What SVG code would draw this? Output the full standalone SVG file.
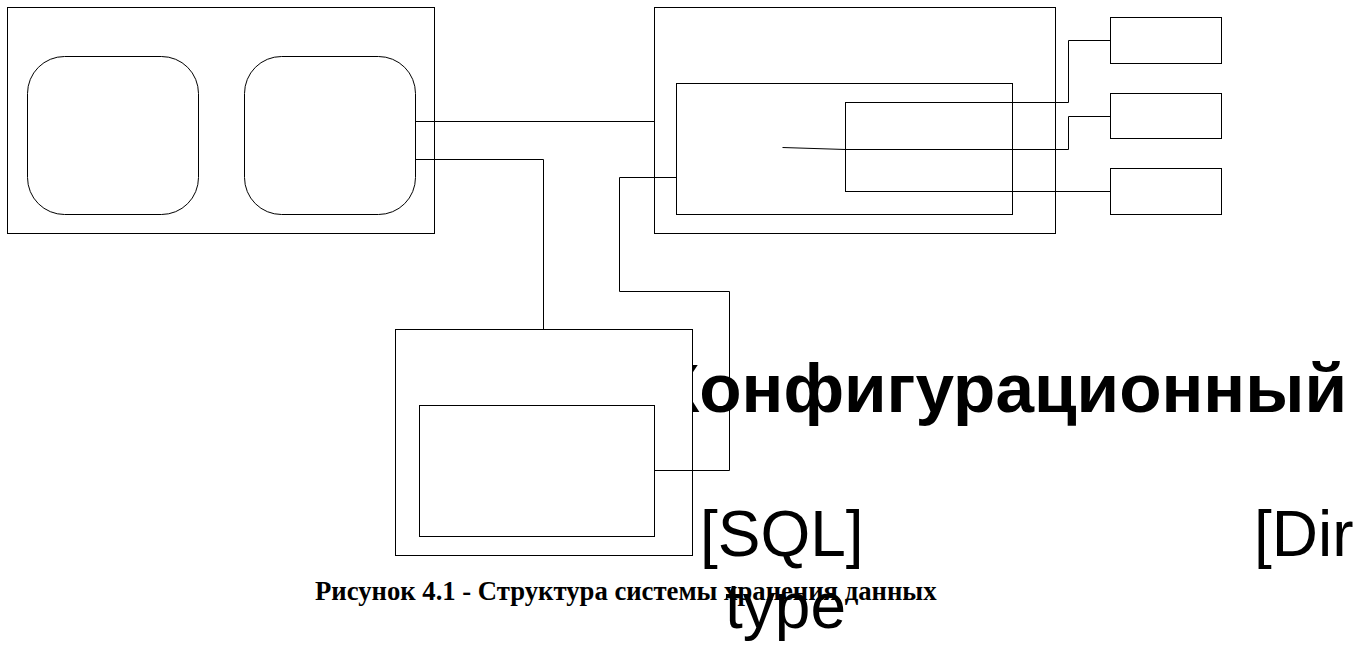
<svg xmlns="http://www.w3.org/2000/svg" width="1360" height="646" viewBox="0 0 1360 646">
  <style>
    .box { fill: #fff; stroke: #000; stroke-width: 1; }
    .wire { fill: none; stroke: #000; stroke-width: 1; }
    .big { font-family: "Liberation Sans", Arial, sans-serif; fill: #000; }
    .caption { font-family: "Liberation Serif", "Times New Roman", serif; font-weight: bold; font-size: 26.7px; fill: #000; }
  </style>
  <rect width="1360" height="646" fill="#fff"/>

  <!-- labels (drawn underneath the blocks) -->
  <g id="labels">
    <text class="big" x="1347" y="412" font-size="69.3" font-weight="bold" text-anchor="end">Конфигурационный</text>
    <text class="big" x="700" y="556" font-size="64">[SQL]</text>
    <text class="big" x="1254" y="556" font-size="64">[Dir</text>
    <text class="big" x="725" y="628" font-size="64">type</text>
  </g>

  <!-- client block with two modules -->
  <g id="client">
    <rect class="box" x="7.5" y="7.5" width="427" height="226"/>
  </g>
  <g id="module-a">
    <rect class="box" x="27.5" y="56.5" width="171" height="158" rx="37" ry="37"/>
  </g>
  <g id="module-b">
    <rect class="box" x="244.5" y="56.5" width="171" height="158" rx="37" ry="37"/>
  </g>

  <!-- server block -->
  <g id="server">
    <rect class="box" x="654.5" y="7.5" width="401" height="226"/>
  </g>
  <g id="server-core">
    <rect class="box" x="676.5" y="83.5" width="336" height="131"/>
  </g>
  <g id="server-dispatch">
    <rect class="box" x="845.5" y="102.5" width="167" height="89"/>
  </g>

  <!-- storage targets -->
  <g id="target-1">
    <rect class="box" x="1110.5" y="17.5" width="111" height="46"/>
  </g>
  <g id="target-2">
    <rect class="box" x="1110.5" y="93.5" width="111" height="45"/>
  </g>
  <g id="target-3">
    <rect class="box" x="1110.5" y="168.5" width="111" height="46"/>
  </g>

  <!-- storage block -->
  <g id="storage">
    <rect class="box" x="395.5" y="329.5" width="297" height="226"/>
  </g>
  <g id="storage-core">
    <rect class="box" x="419.5" y="405.5" width="235" height="131"/>
  </g>

  <!-- connectors -->
  <g id="connectors">
    <polyline class="wire" points="415.5,121.5 654.5,121.5"/>
    <polyline class="wire" points="415.5,159.5 543.5,159.5 543.5,329.5"/>
    <polyline class="wire" points="676.5,177.5 619.5,177.5 619.5,291.5 729.5,291.5 729.5,470.5 654.5,470.5"/>
    <polyline class="wire" points="1012.5,102.5 1068.5,102.5 1068.5,40.5 1110.5,40.5"/>
    <polyline class="wire" points="782.5,147.5 845.5,149.5 1068.5,149.5 1068.5,116.5 1110.5,116.5"/>
    <polyline class="wire" points="1012.5,191.5 1110.5,191.5"/>
  </g>

  <!-- figure caption -->
  <text class="caption" x="315" y="600">Рисунок 4.1 - Структура системы хранения данных</text>
</svg>
